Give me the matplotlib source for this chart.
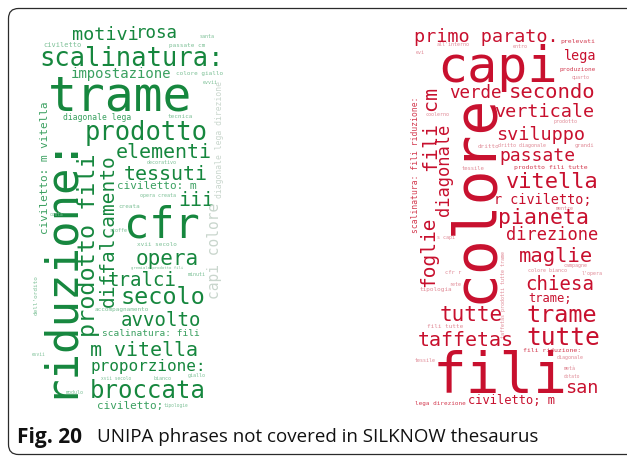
import matplotlib.pyplot as plt
from matplotlib.patches import FancyBboxPatch

# word clouds: words and their relative weights (glyph em in px)
left_words = ["motivi", "rosa", "civiletto", "santa", "passate cm", "scalinatura:",
              "impostazione", "colore giallo", "evvii", "trame", "diagonale lega",
              "tecnica", "diagonale lega direzione", "prodotto", "elementi",
              "decorativo", "tessuti", "civiletto: m", "iii", "opera creata", "creata",
              "cfr", "stoffe", "capi colore", "xvii secolo", "diffalcamento",
              "prodotto fili", "opera", "gremiale prodotto fili", "minuti", "tralci",
              "secolo", "accompagnamento", "avvolto", "scalinatura: fili", "m vitella",
              "proporzione:", "xvii secolo", "bianco", "giallo", "broccata", "modulo",
              "civiletto;", "tipologie", "dell'ordito", "evvii", "riduzione:",
              "civiletto: m vitella", "costa"]
left_weight = [18.5, 17.5, 7, 5, 6, 25.5, 14, 6, 5, 48, 8, 6, 8, 25.5, 20, 5, 20, 11,
               20, 5, 6, 42, 5, 14.5, 6, 19.5, 23.5, 21, 4, 5, 19, 23.5, 6, 19, 9.5, 20,
               16, 4.5, 5, 5, 24, 5, 11, 4.5, 6, 4.5, 44, 11, 4.5]

right_words = ["primo parato.", "prelevati", "all'interno", "entro", "evi", "capi",
               "lega", "produzione", "quarto", "verde", "secondo", "colore", "fili cm",
               "diagonale", "scalinatura: fili riduzione:", "coolerno", "verticale",
               "prodotto", "sviluppo", "dritto", "dritto diagonale", "grandi",
               "passate", "tessile", "prodotto fili tutte", "vitella", "r civiletto;",
               "mentre", "pianeta", "direzione", "foglie", "s capi",
               "taffetas prodotti tutte trame", "maglie", "colore bianco", "campagne",
               "l'opera", "cfr r", "rete", "tipologia", "chiesa", "trame;", "tutte",
               "trame", "fili tutte", "taffetas", "tutte", "fili riduzione:",
               "diagonale", "tessile", "fili", "metà", "dotato", "san",
               "lega direzione", "civiletto; m"]
right_weight = [18.5, 6.5, 5, 5, 5, 50, 13.5, 6, 5, 17.5, 20.5, 58, 20, 17, 8, 5, 18.5,
                5, 18.5, 6, 5, 5.5, 18, 5.5, 6.5, 22, 13.5, 5, 21.5, 17, 19.5, 5, 5,
                20.5, 5, 5, 5, 5.5, 5, 6, 19, 12, 21, 23.5, 6, 20, 24.5, 6.5, 5, 5, 56,
                5, 4.5, 18.5, 6, 12]

# layout: centre x, centre y (px from top-left), rotation, shade index
left_layout = [
    (105, 35, 0, 0), (157, 33, 0, 0), (62, 45, 0, 2), (207, 37, 0, 2), (187, 45, 0, 2),
    (132, 59, 0, 0), (121, 74, 0, 1), (200, 73, 0, 2), (210, 83, 0, 2), (120, 97, 0, 0),
    (97, 118, 0, 1), (180, 116, 0, 2), (220, 140, 90, 3), (146, 133, 0, 0),
    (164, 152, 0, 0), (162, 163, 0, 2), (166, 174, 0, 0), (157, 186, 0, 1),
    (196, 200, 0, 0), (158, 195, 0, 2), (129, 207, 0, 2), (162, 226, 0, 0),
    (119, 231, 0, 2), (214, 251, 90, 3), (157, 245, 0, 2), (108, 231, 90, 0),
    (89, 245, 90, 0), (167, 259, 0, 0), (157, 268, 0, 2), (197, 275, 0, 2),
    (142, 281, 0, 0), (163, 297, 0, 0), (122, 310, 0, 2), (161, 320, 0, 0),
    (151, 333, 0, 1), (144, 350, 0, 0), (148, 367, 0, 0), (116, 379, 0, 2),
    (162, 378, 0, 2), (197, 375, 0, 2), (148, 391, 0, 0), (75, 392, 0, 2),
    (130, 406, 0, 1), (176, 405, 0, 2), (36, 295, 90, 2), (39, 355, 0, 2),
    (58, 266, 90, 0), (45, 168, 90, 1), (57, 214, 0, 2)]

right_layout = [
    (486, 37, 0, 0), (578, 42, 0, 1), (453, 45, 0, 2), (520, 46, 0, 2), (420, 53, 0, 2),
    (497, 68, 0, 0), (580, 56, 0, 0), (578, 70, 0, 1), (581, 77, 0, 2), (475, 93, 0, 0),
    (552, 92, 0, 0), (475, 198, 90, 0), (433, 130, 90, 0), (444, 170, 90, 0),
    (416, 165, 90, 1), (438, 115, 0, 2), (544, 112, 0, 0), (565, 121, 0, 2),
    (541, 135, 0, 0), (488, 147, 0, 2), (522, 146, 0, 2), (584, 145, 0, 2),
    (537, 156, 0, 0), (473, 168, 0, 2), (551, 167, 0, 1), (552, 182, 0, 0),
    (543, 200, 0, 0), (565, 208, 0, 2), (543, 218, 0, 0), (552, 235, 0, 0),
    (429, 252, 90, 0), (446, 238, 0, 2), (503, 295, 90, 2), (556, 257, 0, 0),
    (548, 270, 0, 2), (575, 265, 0, 2), (592, 273, 0, 2), (453, 272, 0, 2),
    (455, 284, 0, 2), (436, 290, 0, 2), (560, 285, 0, 0), (550, 299, 0, 0),
    (471, 315, 0, 0), (562, 315, 0, 0), (445, 327, 0, 2), (466, 340, 0, 0),
    (563, 338, 0, 0), (552, 351, 0, 1), (570, 358, 0, 2), (425, 361, 0, 2),
    (500, 377, 0, 0), (570, 369, 0, 2), (572, 376, 0, 2), (582, 388, 0, 0),
    (440, 404, 0, 1), (512, 401, 0, 0)]

greens = ["#16873e", "#3aa060", "#7cc096", "#c9d6cd"]
reds = ["#c8102e", "#d33b50", "#e08a96", "#e2b6bd"]

fig = plt.figure(figsize=(6.27, 4.57), dpi=100)
ax = fig.add_axes([0, 0, 1, 1])
ax.set_xlim(0, 627)
ax.set_ylim(457, 0)
ax.axis("off")

frame = FancyBboxPatch((8.5, 8.5), 660, 446, boxstyle="round,pad=0,rounding_size=10",
                       fc="white", ec="#2b2b2b", lw=0.9)
ax.add_patch(frame)


def draw_cloud(words, weight, layout, palette):
    for w, s, (x, y, rot, shade) in zip(words, weight, layout):
        ax.text(x, y, w, fontsize=s * 0.72, rotation=rot, ha="center", va="center",
                color=palette[shade], family="DejaVu Sans Mono")


draw_cloud(left_words, left_weight, left_layout, greens)
draw_cloud(right_words, right_weight, right_layout, reds)

ax.text(17, 437, "Fig. 20", fontsize=15, fontweight="bold", va="center",
        family="Open Sans", color="#111111")
ax.text(97, 437, "UNIPA phrases not covered in SILKNOW thesaurus", fontsize=13.5,
        va="center", family="Open Sans", color="#111111")

fig.savefig("out.png", dpi=100)
